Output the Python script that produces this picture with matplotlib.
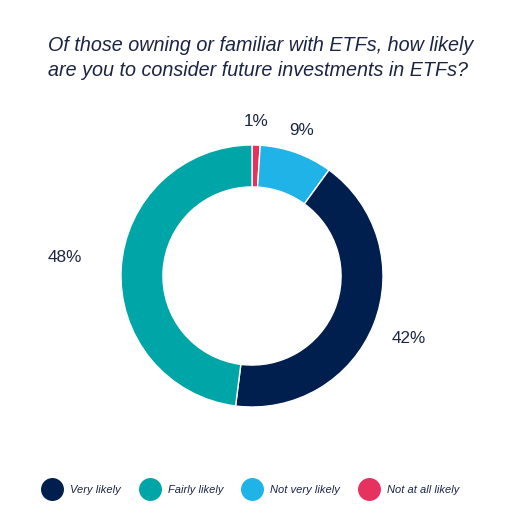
import numpy as np
import matplotlib
matplotlib.use("Agg")
import matplotlib.pyplot as plt
from matplotlib.lines import Line2D

plt.rcParams['font.family'] = ['Liberation Sans', 'DejaVu Sans']

TITLE = "Of those owning or familiar with ETFs, how likely\nare you to consider future investments in ETFs?"

# clockwise from 12 o'clock, as drawn
slice_names = ["Not at all likely", "Not very likely", "Very likely", "Fairly likely"]
slice_values = [1, 9, 42, 48]

legend_names = ["Very likely", "Fairly likely", "Not very likely", "Not at all likely"]

colors = {
    "Very likely": "#001f4e",
    "Fairly likely": "#00a5a8",
    "Not very likely": "#1fb3e8",
    "Not at all likely": "#e6325f",
}
TEXT = "#1c2444"

fig = plt.figure(figsize=(5.23, 5.23), dpi=100)

# donut axes: centre at (252, 276) px, outer radius 131 px
cx, cy = 252 / 523, 1 - 276 / 523
w = 3 * 131 / 523
ax = fig.add_axes([cx - w / 2, cy - w / 2, w, w])

wedges, _ = ax.pie(slice_values, colors=[colors[n] for n in slice_names],
                   startangle=90, counterclock=False, radius=1.0,
                   wedgeprops=dict(width=0.32, edgecolor="white", linewidth=1))

for wdg, v in zip(wedges, slice_values):
    ang = np.deg2rad((wdg.theta1 + wdg.theta2) / 2)
    x, y = np.cos(ang), np.sin(ang)
    if abs(x) < 0.5:
        ha, r = "center", 1.12
    elif x > 0:
        ha, r = "left", 1.15
    else:
        ha, r = "right", 1.3
    va = "bottom" if y > 0 else "top"
    ax.text(r * x, r * y, f"{v}%", ha=ha, va=va, fontsize=12.3, color=TEXT)

ax.set_xlim(-1.5, 1.5)
ax.set_ylim(-1.5, 1.5)
ax.set_aspect("equal")
ax.axis("off")

fig.text(48 / 523, 1 - 36 / 523, TITLE, ha="left", va="top", fontsize=14.2,
         style="italic", color=TEXT, linespacing=1.4)

handles = [Line2D([0], [0], marker="o", linestyle="", markersize=15.5,
                  markerfacecolor=colors[n], markeredgecolor=colors[n])
           for n in legend_names]
leg = fig.legend(handles, legend_names, loc="center", bbox_to_anchor=(0.478, 1 - 490 / 523),
                 ncol=4, frameon=False, handletextpad=0.62, columnspacing=1.6,
                 handlelength=2.0, prop=dict(size=8, style="italic"))
for t in leg.get_texts():
    t.set_color(TEXT)

fig.savefig("out.png", dpi=100, facecolor="white")
